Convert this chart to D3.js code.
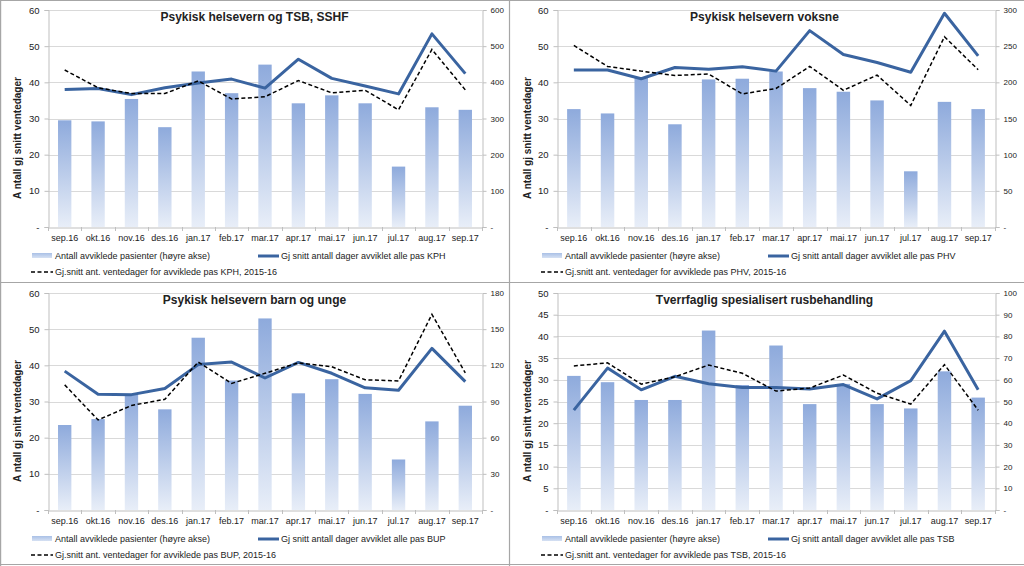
<!DOCTYPE html>
<html><head><meta charset="utf-8">
<script src="https://cdn.jsdelivr.net/npm/d3@7"></script>
<style>
body{margin:0;background:#fff}
svg{display:block}
text{font-family:"Liberation Sans",Arial,sans-serif;fill:#222}
</style>
</head><body>
<svg id="chart" width="1024" height="566"></svg>
<script>
// ---------- DATA ----------
const months = ["sep.16","okt.16","nov.16","des.16","jan.17","feb.17","mar.17","apr.17","mai.17","jun.17","jul.17","aug.17","sep.17"];

const titles = ["Psykisk helsevern og TSB, SSHF","Psykisk helsevern voksne","Psykisk helsevern barn og unge","Tverrfaglig spesialisert rusbehandling"];
const units = ["KPH","PHV","BUP","TSB"];

// Antall avviklede pasienter (right axis)
const barsKPH = [295,292,354,276,430,370,449,342,364,342,167,331,324];
const barsPHV = [163,157,207,142,204,205,215,192,187,175,77,173,163];
const barsBUP = [70.5,75.4,96.3,83.5,142.9,107.4,158.9,96.8,108.5,96.3,41.9,73.5,86.5];
const barsTSB = [61.8,58.9,50.7,50.7,82.7,57.6,75.8,48.8,58.1,48.8,46.8,63.9,51.8];

// Gj snitt antall dager avviklet (left axis)
const solidKPH = [38.0,38.3,36.6,38.5,39.8,40.9,38.4,46.4,41.1,39.0,36.8,53.4,42.4];
const solidPHV = [43.4,43.4,41.0,44.1,43.6,44.3,43.1,54.3,47.7,45.5,42.8,59.1,47.3];
const solidBUP = [38.4,32.0,31.9,33.6,40.2,40.9,36.5,40.8,37.8,33.8,33.1,44.7,35.5];
const solidTSB = [23.0,32.7,27.7,30.8,29.1,28.2,28.2,27.9,28.9,25.6,29.8,41.2,27.7];

// Gj.snitt ventedager 2015-16 (left axis)
const dashKPH = [43.4,38.5,36.9,36.9,40.4,35.4,36.0,40.5,37.1,37.8,32.4,49.1,37.9];
const dashPHV = [50.2,44.4,43.1,41.9,42.3,36.8,38.3,44.4,37.8,42.0,33.6,52.6,43.5];
const dashBUP = [34.6,24.9,28.9,30.6,40.9,35.0,37.8,40.7,39.6,36.0,35.7,54.1,37.9];
const dashTSB = [33.2,33.9,29.0,30.7,33.4,31.5,27.4,28.1,31.1,26.9,24.4,33.5,23.0];

// tick values
const leftTicksA = [0,10,20,30,40,50,60];
const leftTicksB = [0,5,10,15,20,25,30,35,40,45,50];
const rightTicksKPH = [0,100,200,300,400,500,600];
const rightTicksPHV = [0,50,100,150,200,250,300];
const rightTicksBUP = [0,30,60,90,120,150,180];
const rightTicksTSB = [0,10,20,30,40,50,60,70,80,90,100];

const legendBar = "Antall avviklede pasienter (høyre akse)";
const legendSolid = "Gj snitt antall dager avviklet alle pas ";
const legendDash = ["Gj.snitt ant. ventedager for avviklede pas ", ", 2015-16"];
const yTitle = "A ntall gj snitt ventedager";

// ---------- BUILD ----------
const panels = [
  {title:titles[0],unit:units[0],bars:barsKPH,solid:solidKPH,dash:dashKPH,lt:leftTicksA,rt:rightTicksKPH,ox:0,oy:0,l:48,r:482},
  {title:titles[1],unit:units[1],bars:barsPHV,solid:solidPHV,dash:dashPHV,lt:leftTicksA,rt:rightTicksPHV,ox:510,oy:0,l:47,r:485},
  {title:titles[2],unit:units[2],bars:barsBUP,solid:solidBUP,dash:dashBUP,lt:leftTicksA,rt:rightTicksBUP,ox:0,oy:283,l:48,r:482},
  {title:titles[3],unit:units[3],bars:barsTSB,solid:solidTSB,dash:dashTSB,lt:leftTicksB,rt:rightTicksTSB,ox:510,oy:283,l:47,r:485}
];

const svg = d3.select("#chart");
const defs = svg.append("defs");
const grad = defs.append("linearGradient").attr("id","barGrad").attr("x1",0).attr("y1",0).attr("x2",0).attr("y2",1);
grad.append("stop").attr("offset","0%").attr("stop-color","#8eaadc");
grad.append("stop").attr("offset","100%").attr("stop-color","#e8eef8");
const lgrad = defs.append("linearGradient").attr("id","legGrad").attr("x1",0).attr("y1",0).attr("x2",0).attr("y2",1);
lgrad.append("stop").attr("offset","0%").attr("stop-color","#a9c0e6");
lgrad.append("stop").attr("offset","100%").attr("stop-color","#d6e1f3");

// frame lines
const frame = svg.append("g").attr("stroke","#a6a6a6").attr("stroke-width",1.2);
frame.append("line").attr("x1",0).attr("x2",1024).attr("y1",0.5).attr("y2",0.5);
frame.append("line").attr("x1",0).attr("x2",1024).attr("y1",282.5).attr("y2",282.5);
frame.append("line").attr("x1",0).attr("x2",1024).attr("y1",564.5).attr("y2",564.5);
frame.append("line").attr("x1",0.6).attr("x2",0.6).attr("y1",0).attr("y2",566);
frame.append("line").attr("x1",509.5).attr("x2",509.5).attr("y1",0).attr("y2",566);

const plotTop = 10, plotBottom = 227;

panels.forEach(p => {
  const g = svg.append("g").attr("transform",`translate(${p.ox},${p.oy})`);
  const x = d3.scaleBand().domain(months).range([p.l,p.r]).paddingInner(0.6).paddingOuter(0.3);
  const xb = d3.scaleBand().domain(months).range([p.l,p.r]);
  const yL = d3.scaleLinear().domain([0,d3.max(p.lt)]).range([plotBottom,plotTop]);
  const yR = d3.scaleLinear().domain([0,d3.max(p.rt)]).range([plotBottom,plotTop]);

  // gridlines
  g.append("g").selectAll("line").data(p.lt.filter(v=>v>0)).join("line")
    .attr("x1",p.l).attr("x2",p.r).attr("y1",d=>Math.round(yL(d))+0.5).attr("y2",d=>Math.round(yL(d))+0.5)
    .attr("stroke","#d9d9d9").attr("stroke-width",1);

  // left axis
  const axL = g.append("g").attr("transform",`translate(${p.l+0.5},0)`)
    .call(d3.axisLeft(yL).tickValues(p.lt).tickSize(4).tickPadding(5).tickFormat(d=>d===0?"-":d));
  axL.select(".domain").attr("stroke","#bfbfbf");
  axL.selectAll(".tick line").attr("stroke","#bfbfbf");
  axL.selectAll("text").attr("font-size",9.5).attr("fill","#333");

  // right axis
  const axR = g.append("g").attr("transform",`translate(${p.r+0.5},0)`)
    .call(d3.axisRight(yR).tickValues(p.rt).tickSize(4).tickPadding(4).tickFormat(d=>d===0?"-":d));
  axR.select(".domain").attr("stroke","#bfbfbf");
  axR.selectAll(".tick line").attr("stroke","#bfbfbf");
  axR.selectAll("text").attr("font-size",8).attr("fill","#555");

  // bottom axis
  const axB = g.append("g").attr("transform",`translate(0,${plotBottom+0.5})`)
    .call(d3.axisBottom(xb).tickSize(0).tickPadding(7));
  axB.select(".domain").attr("stroke","#bfbfbf");
  axB.selectAll("text").attr("font-size",9).attr("fill","#333");
  g.append("g").selectAll("line").data(months).join("line")
    .attr("x1",d=>Math.round(xb(d))+0.5).attr("x2",d=>Math.round(xb(d))+0.5)
    .attr("y1",plotBottom).attr("y2",plotBottom+4).attr("stroke","#bfbfbf");
  g.append("line").attr("x1",p.r+0.5).attr("x2",p.r+0.5).attr("y1",plotBottom).attr("y2",plotBottom+4).attr("stroke","#bfbfbf");

  // bars
  g.append("g").selectAll("rect").data(p.bars).join("rect")
    .attr("x",(d,i)=>x(months[i])).attr("width",x.bandwidth())
    .attr("y",d=>yR(d)).attr("height",d=>plotBottom-yR(d))
    .attr("fill","url(#barGrad)");

  // lines
  const line = d3.line().x((d,i)=>xb(months[i])+xb.bandwidth()/2).y(d=>yL(d));
  g.append("path").datum(p.solid).attr("d",line).attr("fill","none")
    .attr("stroke","#3a64a0").attr("stroke-width",3).attr("stroke-linejoin","round");
  g.append("path").datum(p.dash).attr("d",line).attr("fill","none")
    .attr("stroke","#000").attr("stroke-width",1.5).attr("stroke-dasharray","4,2.5");

  // title
  g.append("text").attr("x",254.5).attr("y",21).attr("text-anchor","middle")
    .attr("font-size",12).attr("font-weight","bold").attr("fill","#000").text(p.title);

  // y title
  g.append("text").attr("transform",`translate(21,138) rotate(-90)`).attr("text-anchor","middle")
    .attr("font-size",10).attr("font-weight","bold").attr("fill","#000").text(yTitle);

  // legend
  const lg = g.append("g");
  lg.append("rect").attr("x",32).attr("y",253).attr("width",20).attr("height",5).attr("fill","url(#legGrad)");
  lg.append("text").attr("x",55).attr("y",259).attr("font-size",9).text(legendBar);
  lg.append("line").attr("x1",258).attr("x2",279).attr("y1",256).attr("y2",256).attr("stroke","#3a64a0").attr("stroke-width",3);
  lg.append("text").attr("x",281).attr("y",259).attr("font-size",9).text(legendSolid + p.unit);
  lg.append("line").attr("x1",31).attr("x2",53).attr("y1",272).attr("y2",272).attr("stroke","#000").attr("stroke-width",1.5).attr("stroke-dasharray","4,2.5");
  lg.append("text").attr("x",55).attr("y",275).attr("font-size",9).text(legendDash[0] + p.unit + legendDash[1]);
});
</script>
</body></html>
